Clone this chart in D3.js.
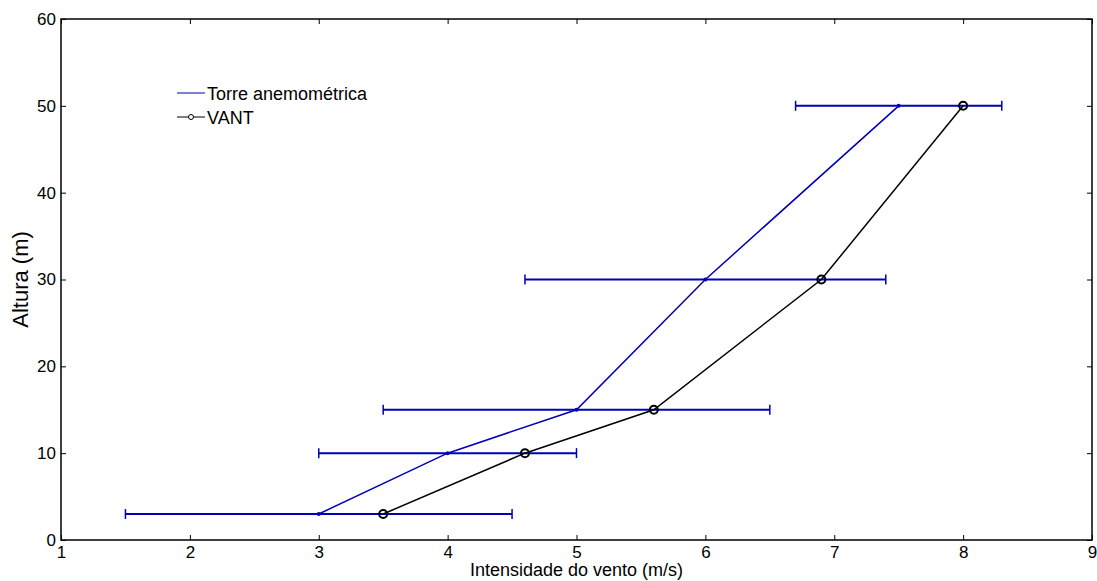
<!DOCTYPE html>
<html>
<head>
<meta charset="utf-8">
<script src="https://cdn.jsdelivr.net/npm/d3@7"></script>
<style>
  body { margin: 0; background: #fff; }
  text { font-family: "Liberation Sans", Arial, sans-serif; }
</style>
</head>
<body>
<script>
// Torre anemométrica: mean speed per height, with min/max bars
var heights = [3, 10, 15, 30, 50];
var torreSpeed = [3, 4, 5, 6, 7.5];
var torreLow = [1.5, 3, 3.5, 4.6, 6.7];
var torreHigh = [4.5, 5, 6.5, 7.4, 8.3];
// VANT measurements
var vantSpeed = [3.5, 4.6, 5.6, 6.9, 8];

var xTicks = [1, 2, 3, 4, 5, 6, 7, 8, 9];
var yTicks = [0, 10, 20, 30, 40, 50, 60];

var W = 1097, H = 581;
var margin = { top: 19, right: 5, bottom: 41, left: 61 };
var blue = "#0000b4";

var svg = d3.select("body").append("svg")
  .attr("width", W)
  .attr("height", H);

var x = d3.scaleLinear().domain([1, 9]).range([margin.left, W - margin.right]);
var y = d3.scaleLinear().domain([0, 60]).range([H - margin.bottom, margin.top]);

// ticks (inside, all four sides)
var axisB = d3.axisBottom(x).tickValues(xTicks).tickSize(-5).tickPadding(6).tickFormat(d3.format("d"));
var axisL = d3.axisLeft(y).tickValues(yTicks).tickSize(-5).tickPadding(5).tickFormat(d3.format("d"));
var axisT = d3.axisTop(x).tickValues(xTicks).tickSize(-5).tickFormat("");
var axisR = d3.axisRight(y).tickValues(yTicks).tickSize(-5).tickFormat("");

function styleAxis(g) {
  g.select(".domain").remove();
  g.selectAll(".tick line").attr("stroke", "#000").attr("stroke-width", 1);
  g.selectAll(".tick text").attr("font-size", 17).attr("fill", "#000")
    .style("font-family", "'Liberation Sans', Arial, sans-serif");
}

svg.append("g").attr("transform", "translate(0," + y(0) + ")").call(axisB).call(styleAxis);
svg.append("g").attr("transform", "translate(" + x(1) + ",0)").call(axisL).call(styleAxis);
svg.append("g").attr("transform", "translate(0," + y(60) + ")").call(axisT).call(styleAxis);
svg.append("g").attr("transform", "translate(" + x(9) + ",0)").call(axisR).call(styleAxis);

svg.append("rect")
  .attr("x", x(1)).attr("y", y(60))
  .attr("width", x(9) - x(1)).attr("height", y(0) - y(60))
  .attr("fill", "none").attr("stroke", "#000").attr("stroke-width", 1.5);

// error bars
var capH = 5;
var bars = svg.append("g").attr("stroke", blue).attr("stroke-width", 2);
heights.forEach(function (h, i) {
  bars.append("line")
    .attr("x1", x(torreLow[i])).attr("x2", x(torreHigh[i]))
    .attr("y1", y(h)).attr("y2", y(h));
  [torreLow[i], torreHigh[i]].forEach(function (v) {
    bars.append("line")
      .attr("x1", x(v)).attr("x2", x(v))
      .attr("y1", y(h) - capH).attr("y2", y(h) + capH)
      .attr("stroke-width", 1.5);
  });
});

var line = d3.line().x(function (d) { return x(d[0]); }).y(function (d) { return y(d[1]); });

var torre = heights.map(function (h, i) { return [torreSpeed[i], h]; });
var vant = heights.map(function (h, i) { return [vantSpeed[i], h]; });

svg.append("path").datum(torre)
  .attr("d", line).attr("fill", "none").attr("stroke", blue).attr("stroke-width", 1.5);
svg.selectAll(".tp").data(torre).enter().append("circle")
  .attr("cx", function (d) { return x(d[0]); })
  .attr("cy", function (d) { return y(d[1]); })
  .attr("r", 2).attr("fill", blue);

svg.append("path").datum(vant)
  .attr("d", line).attr("fill", "none").attr("stroke", "#000").attr("stroke-width", 1.5);
svg.selectAll(".vp").data(vant).enter().append("circle")
  .attr("cx", function (d) { return x(d[0]); })
  .attr("cy", function (d) { return y(d[1]); })
  .attr("r", 4).attr("fill", "none").attr("stroke", "#000").attr("stroke-width", 2);

// legend
var lg = svg.append("g").attr("transform", "translate(177,93)");
lg.append("line").attr("x1", 0).attr("x2", 28).attr("y1", 0).attr("y2", 0)
  .attr("stroke", blue).attr("stroke-width", 1);
lg.append("text").attr("x", 30).attr("y", 7).attr("font-size", 18).text("Torre anemométrica");
lg.append("line").attr("x1", 0).attr("x2", 28).attr("y1", 24).attr("y2", 24)
  .attr("stroke", "#000").attr("stroke-width", 1);
lg.append("circle").attr("cx", 14).attr("cy", 24).attr("r", 2.5)
  .attr("fill", "#fff").attr("stroke", "#000").attr("stroke-width", 1);
lg.append("text").attr("x", 30).attr("y", 31).attr("font-size", 18).text("VANT");

// axis labels
svg.append("text")
  .attr("x", (x(1) + x(9)) / 2).attr("y", 576)
  .attr("text-anchor", "middle").attr("font-size", 18)
  .text("Intensidade do vento (m/s)");
svg.append("text")
  .attr("transform", "translate(28," + ((y(0) + y(60)) / 2) + ") rotate(-90)")
  .attr("text-anchor", "middle").attr("font-size", 22)
  .text("Altura (m)");
</script>
</body>
</html>
